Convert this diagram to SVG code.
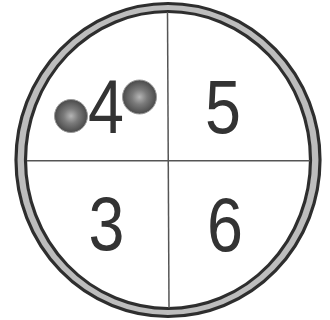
<svg xmlns="http://www.w3.org/2000/svg" width="330" height="320" viewBox="0 0 330 320">
  <style>
    .dig { font-family: "Liberation Sans", Arial, sans-serif; font-size: 76px; fill: #333; text-anchor: middle; }
    .div { stroke: #555; stroke-width: 1.5; fill: none; }
    .ring-line { fill: none; stroke: #2e2e2e; stroke-width: 3.2; }
    .ring-band { fill: none; stroke: #bdbdbd; stroke-width: 7; }
    .ball { fill: url(#ballGrad); stroke: #9a9a9a; stroke-width: 1; }
  </style>
  <defs>
    <radialGradient id="ballGrad" cx="0.5" cy="0.5" r="0.5">
      <stop offset="0" stop-color="#b5b5b5"/>
      <stop offset="0.45" stop-color="#7a7a7a"/>
      <stop offset="1" stop-color="#4a4a4a"/>
    </radialGradient>
  </defs>
  <rect width="330" height="320" fill="#fff"/>
  <g id="ring">
    <ellipse class="ring-band" cx="168" cy="160" rx="147.3" ry="152.5"/>
    <ellipse class="ring-line" cx="168" cy="160" rx="152" ry="156.5"/>
    <ellipse class="ring-line" cx="168" cy="160" rx="142.5" ry="148.5"/>
  </g>
  <g id="connectors">
    <line class="div" x1="167.5" y1="12" x2="169" y2="308"/>
    <line class="div" x1="27" y1="160.7" x2="310" y2="160.7"/>
  </g>
  <g id="cell-4">
    <text class="dig" transform="translate(106,133) scale(0.85,1)">4</text>
    <circle class="ball" cx="71" cy="116" r="16.5"/>
    <circle class="ball" cx="139.5" cy="97" r="17"/>
  </g>
  <g id="cell-5">
    <text class="dig" transform="translate(223,133) scale(0.85,1)">5</text>
  </g>
  <g id="cell-3">
    <text class="dig" transform="translate(106.5,250) scale(0.85,1)">3</text>
  </g>
  <g id="cell-6">
    <text class="dig" transform="translate(225,251) scale(0.85,1)">6</text>
  </g>
</svg>
